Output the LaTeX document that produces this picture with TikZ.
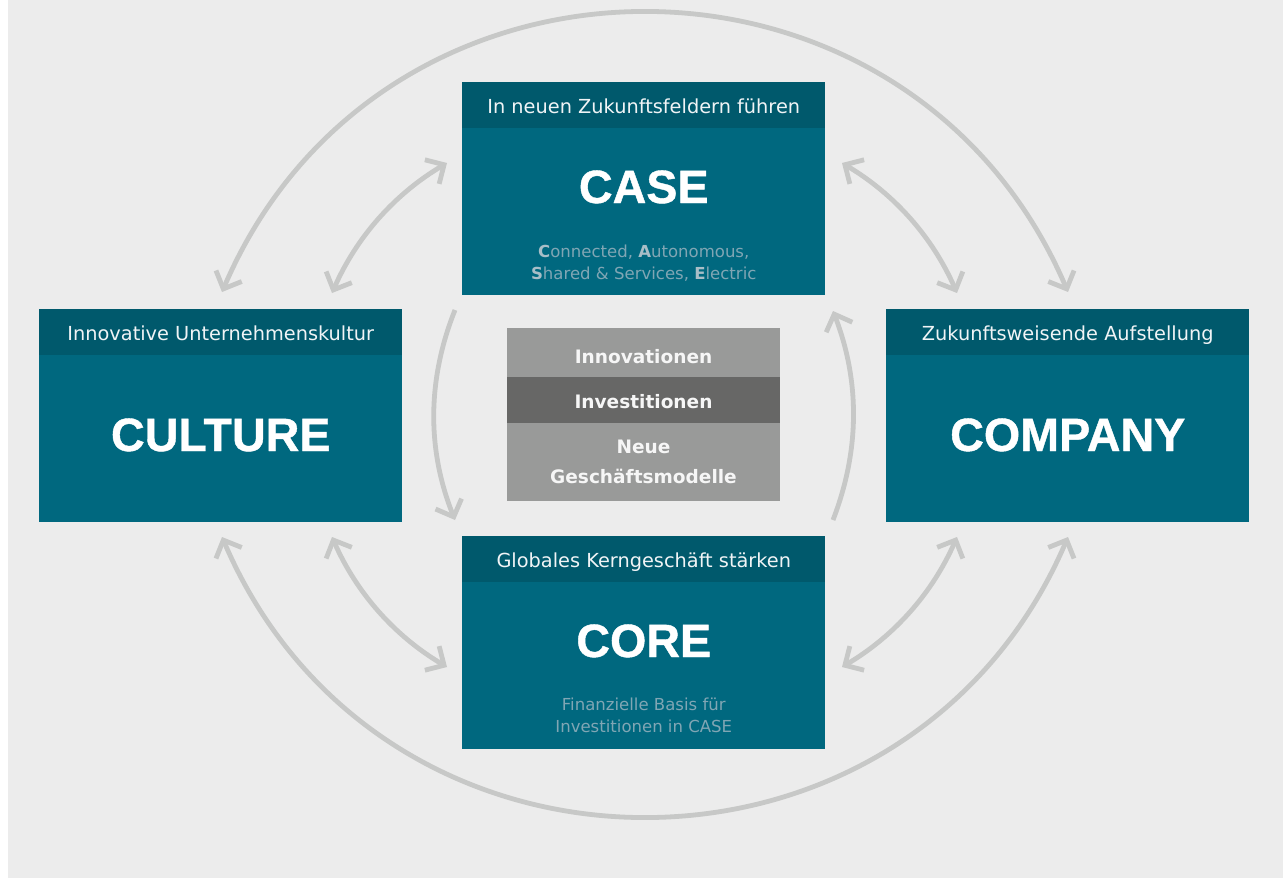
\documentclass[tikz,border=0pt]{standalone}
\usepackage{fontspec}
\setmainfont{DejaVu Sans}
\newfontfamily\ttlfont{Liberation Sans}[BoldFeatures={FakeBold=0.9}]
\usetikzlibrary{arrows.meta,calc}
\definecolor{bg}{RGB}{236,236,236}
\definecolor{tealbody}{RGB}{0,104,127}
\definecolor{tealhead}{RGB}{0,89,108}
\definecolor{subtxt}{RGB}{128,166,180}
\definecolor{subbold}{RGB}{168,190,199}
\definecolor{arrowgray}{RGB}{199,200,199}
\definecolor{midlight}{RGB}{153,154,153}
\definecolor{middark}{RGB}{103,103,102}
\definecolor{midtxt}{RGB}{246,246,246}
\definecolor{hdrtxt}{RGB}{240,244,246}
\begin{document}
\begin{tikzpicture}[x=0.75pt,y=-0.75pt,
  box/.style={fill=tealbody, draw=none, anchor=north west, inner sep=0pt, minimum width=272.25pt, minimum height=159.4pt},
  hdr/.style={fill=tealhead, anchor=north, inner sep=0pt, minimum width=272.25pt, minimum height=34.5pt},
  hdrtext/.style={anchor=base, text=hdrtxt, font=\fontsize{14.5pt}{17pt}\selectfont, inner sep=0pt},
  ttl/.style={anchor=base, text=white, font=\ttlfont\bfseries\fontsize{35pt}{40pt}\selectfont, inner sep=0pt},
  sub/.style={anchor=base, text=subtxt, font=\fontsize{12.4pt}{16.5pt}\selectfont, inner sep=0pt},
  midrow/.style={anchor=north west, inner sep=0pt, minimum width=204.75pt},
  midtext/.style={anchor=base, text=midtxt, font=\bfseries\fontsize{13.9pt}{16pt}\selectfont, inner sep=0pt},
  link/.style={draw=arrowgray, line width=3.6pt},
  twoway/.style={link, {Straight Barb[length=10.5pt,width=21pt]}-{Straight Barb[length=10.5pt,width=21pt]}},
  oneway/.style={link, -{Straight Barb[length=10.5pt,width=21pt]}}
]
\useasboundingbox (0,0) rectangle (1283,878);
\fill[white] (0,0) rectangle (1283,878);
\fill[bg] (8,0) rectangle (1283,878);

% CASE
\node[box] (case) at (462,82) {};
\node[hdr] (caseh) at (case.north) {};
\node[hdrtext] (caset) at ($(case.north)+(0,31.5)$) {In neuen Zukunftsfeldern führen};
\node[ttl] (casettl) at ($(case.north)+(0,121)$) {CASE};
\node[sub] (cases1) at ($(case.north)+(0,175)$) {\textcolor{subbold}{\textbf{C}}onnected, \textcolor{subbold}{\textbf{A}}utonomous,};
\node[sub] (cases2) at ($(case.north)+(0,197)$) {\textcolor{subbold}{\textbf{S}}hared \& Services, \textcolor{subbold}{\textbf{E}}lectric};

% CULTURE
\node[box] (culture) at (39,309) {};
\node[hdr] (cultureh) at (culture.north) {};
\node[hdrtext] (culturet) at ($(culture.north)+(0,31.5)$) {Innovative Unternehmenskultur};
\node[ttl] (culturettl) at ($(culture.north)+(0,142)$) {CULTURE};

% COMPANY
\node[box] (company) at (886,309) {};
\node[hdr] (companyh) at (company.north) {};
\node[hdrtext] (companyt) at ($(company.north)+(0,31.5)$) {Zukunftsweisende Aufstellung};
\node[ttl] (companyttl) at ($(company.north)+(0,142)$) {COMPANY};

% CORE
\node[box] (core) at (462,536) {};
\node[hdr] (coreh) at (core.north) {};
\node[hdrtext] (coret) at ($(core.north)+(0,31.5)$) {Globales Kerngeschäft stärken};
\node[ttl] (corettl) at ($(core.north)+(0,121)$) {CORE};
\node[sub] (cores1) at ($(core.north)+(0,174)$) {Finanzielle Basis für};
\node[sub] (cores2) at ($(core.north)+(0,196)$) {Investitionen in CASE};

% middle stack
\node[midrow, fill=midlight, minimum height=36.75pt] (mid1) at (507,328) {};
\node[midrow, fill=middark, minimum height=34.5pt] (mid2) at (507,377) {};
\node[midrow, fill=midlight, minimum height=58.5pt] (mid3) at (507,423) {};
\node[midtext] (mid1t) at (643.5,363) {Innovationen};
\node[midtext] (mid2t) at (643.5,408) {Investitionen};
\node[midtext] (mid3t) at (643.5,453) {Neue};
\node[midtext] (mid3u) at (643.5,483) {Geschäftsmodelle};

% arrow end points
\coordinate (otl) at (222,292);
\coordinate (otr) at (1068,292);
\coordinate (obl) at (222,537);
\coordinate (obr) at (1068,537);
\coordinate (itlA) at (332,293);
\coordinate (itlB) at (447,163);
\coordinate (itrA) at (842,163);
\coordinate (itrB) at (957,293);
\coordinate (iblA) at (332,537);
\coordinate (iblB) at (447,667);
\coordinate (ibrA) at (842,667);
\coordinate (ibrB) at (957,537);
\coordinate (vlA) at (455,310);
\coordinate (vlB) at (455,520);
\coordinate (vrA) at (833,520);
\coordinate (vrB) at (833,311);

\draw[twoway] (otl) .. controls +(159.3,-372.3) and +(-159.3,-372.3) .. (otr);
\draw[twoway] (obl) .. controls +(159.3,372.3) and +(-159.3,372.3) .. (obr);
\draw[twoway] (itlA) .. controls +(24.4,-55.8) and +(-52.4,31) .. (itlB);
\draw[twoway] (itrA) .. controls +(52.4,31) and +(-24.4,-55.8) .. (itrB);
\draw[twoway] (iblA) .. controls +(24.4,55.8) and +(-52.4,-31) .. (iblB);
\draw[twoway] (ibrA) .. controls +(52.4,-31) and +(-24.4,55.8) .. (ibrB);
\draw[oneway] (vlA) .. controls +(-28,70) and +(-28,-70) .. (vlB);
\draw[oneway] (vrA) .. controls +(27,-70) and +(27,70) .. (vrB);
\end{tikzpicture}
\end{document}
